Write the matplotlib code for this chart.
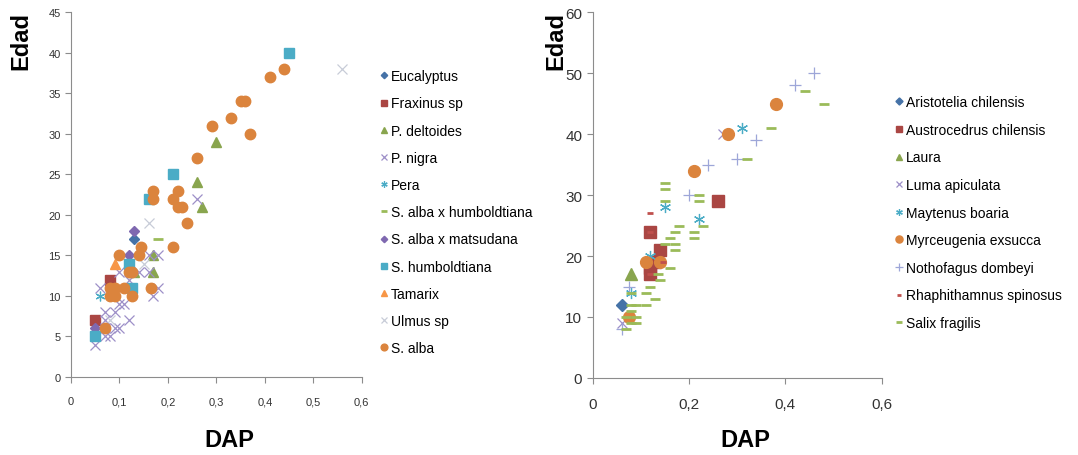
import matplotlib
matplotlib.use('Agg')
import matplotlib.pyplot as plt
from matplotlib.ticker import MultipleLocator, FuncFormatter

plt.rcParams['font.family'] = ['Liberation Sans Narrow', 'Liberation Sans', 'DejaVu Sans']

# ---- left panel data (DAP, Edad) ----
eucalyptus_x = [0.13]
eucalyptus_y = [17]
fraxinus_x = [0.08, 0.05]
fraxinus_y = [12, 7]
pdeltoides_x = [0.30, 0.26, 0.27, 0.17, 0.17, 0.13]
pdeltoides_y = [29, 24, 21, 15, 13, 13]
pnigra_x = [0.26, 0.06, 0.10, 0.14, 0.16, 0.16, 0.18, 0.18, 0.17, 0.10, 0.11, 0.07,
            0.07, 0.12, 0.09, 0.10, 0.08, 0.07, 0.05, 0.07, 0.12, 0.09]
pnigra_y = [22, 11, 13, 13, 13, 15, 15, 11, 10, 9, 9, 8,
            7, 7, 6, 6, 5, 6, 4, 5, 12, 8]
pera_x = [0.12, 0.06]
pera_y = [13, 10]
salba_hum_x = [0.18]
salba_hum_y = [17]
salba_mat_x = [0.13, 0.12, 0.05]
salba_mat_y = [18, 15, 6]
shumb_x = [0.45, 0.21, 0.16, 0.12, 0.125, 0.05]
shumb_y = [40, 25, 22, 14, 11, 5]
tamarix_x = [0.09]
tamarix_y = [14]
ulmus_x = [0.56, 0.16, 0.15, 0.08]
ulmus_y = [38, 19, 14, 7]
salba_x = [0.44, 0.41, 0.35, 0.36, 0.33, 0.37, 0.29, 0.26, 0.17, 0.22, 0.17, 0.21,
           0.22, 0.23, 0.24, 0.21, 0.145, 0.14, 0.10, 0.125, 0.08, 0.09, 0.11, 0.165,
           0.08, 0.09, 0.125, 0.07, 0.12]
salba_y = [38, 37, 34, 34, 32, 30, 31, 27, 23, 23, 22, 22,
           21, 21, 19, 16, 16, 15, 15, 13, 11, 11, 11, 11,
           10, 10, 10, 6, 13]

# ---- right panel data (DAP, Edad) ----
aristotelia_x = [0.06]
aristotelia_y = [12]
austrocedrus_x = [0.26, 0.12, 0.14, 0.13, 0.12, 0.12]
austrocedrus_y = [29, 24, 21, 19, 18, 17]
laura_x = [0.08]
laura_y = [17]
luma_x = [0.27, 0.06]
luma_y = [40, 9]
maytenus_x = [0.31, 0.15, 0.22, 0.12, 0.08]
maytenus_y = [41, 28, 26, 20, 14]
myrceugenia_x = [0.38, 0.28, 0.21, 0.11, 0.14, 0.075]
myrceugenia_y = [45, 40, 34, 19, 19, 10]
nothofagus_x = [0.46, 0.42, 0.34, 0.30, 0.24, 0.20, 0.075, 0.06]
nothofagus_y = [50, 48, 39, 36, 35, 30, 15, 8]
rhaphi_x = [0.12, 0.12, 0.145, 0.12]
rhaphi_y = [27, 24, 19, 17]
salix_x = [0.44, 0.48, 0.37, 0.32, 0.15, 0.15, 0.22, 0.22, 0.15, 0.23, 0.18, 0.17,
           0.21, 0.16, 0.21, 0.15, 0.17, 0.17, 0.16, 0.135, 0.14, 0.12, 0.11, 0.08,
           0.13, 0.11, 0.08, 0.09, 0.07, 0.09, 0.08, 0.09, 0.07, 0.08]
salix_y = [47, 45, 41, 36, 32, 31, 30, 29, 29, 25, 25, 24,
           24, 23, 23, 22, 22, 21, 18, 17, 16, 15, 14, 14,
           13, 12, 12, 12, 10, 10, 9, 9, 8, 11]

BLUE = '#4572A7'
RED = '#AA4643'
GREEN = '#89A54E'
PURPLE = '#9D8FC8'
AQUA = '#4BACC6'
ORANGE = '#DB843D'
STAR = (6, 2, 0)

left_series = [
    ('Eucalyptus', eucalyptus_x, eucalyptus_y, dict(marker='D', color=BLUE, ms=5)),
    ('Fraxinus sp', fraxinus_x, fraxinus_y, dict(marker='s', color=RED, ms=7)),
    ('P. deltoides', pdeltoides_x, pdeltoides_y, dict(marker='^', color=GREEN, ms=7)),
    ('P. nigra', pnigra_x, pnigra_y, dict(marker='x', color=PURPLE, ms=7, mew=0.9)),
    ('Pera', pera_x, pera_y, dict(marker=STAR, color=AQUA, ms=7, mew=0.9)),
    ('S. alba x humboldtiana', salba_hum_x, salba_hum_y, dict(marker='_', color='#9BBB59', ms=7, mew=2)),
    ('S. alba x matsudana', salba_mat_x, salba_mat_y, dict(marker='D', color='#7F68B0', ms=5)),
    ('S. humboldtiana', shumb_x, shumb_y, dict(marker='s', color=AQUA, ms=7)),
    ('Tamarix', tamarix_x, tamarix_y, dict(marker='^', color='#F79646', ms=7)),
    ('Ulmus sp', ulmus_x, ulmus_y, dict(marker='x', color='#C8CCD8', ms=7, mew=0.9)),
    ('S. alba', salba_x, salba_y, dict(marker='o', color=ORANGE, ms=7.5)),
]

right_series = [
    ('Aristotelia chilensis', aristotelia_x, aristotelia_y, dict(marker='D', color=BLUE, ms=6)),
    ('Austrocedrus chilensis', austrocedrus_x, austrocedrus_y, dict(marker='s', color=RED, ms=8)),
    ('Laura', laura_x, laura_y, dict(marker='^', color=GREEN, ms=8)),
    ('Luma apiculata', luma_x, luma_y, dict(marker='x', color=PURPLE, ms=7, mew=0.9)),
    ('Maytenus boaria', maytenus_x, maytenus_y, dict(marker=STAR, color=AQUA, ms=8, mew=0.9)),
    ('Myrceugenia exsucca', myrceugenia_x, myrceugenia_y, dict(marker='o', color=ORANGE, ms=8.5)),
    ('Nothofagus dombeyi', nothofagus_x, nothofagus_y, dict(marker='+', color='#9DA6D8', ms=9, mew=0.9)),
    ('Rhaphithamnus spinosus', rhaphi_x, rhaphi_y, dict(marker='_', color='#C0504D', ms=4, mew=2)),
    ('Salix fragilis', salix_x, salix_y, dict(marker='_', color='#9BBB59', ms=7, mew=2)),
]

fig = plt.figure(figsize=(10.78, 4.56), dpi=100)
ax1 = fig.add_axes([0.0659, 0.171, 0.2697, 0.80])
ax2 = fig.add_axes([0.5498, 0.169, 0.2681, 0.802])

comma = FuncFormatter(lambda v, p: ('%g' % round(v, 2)).replace('.', ','))

def style(ax, xstep, ystep, ymax, fs):
    ax.set_xlim(0, 0.6)
    ax.set_ylim(0, ymax)
    ax.xaxis.set_major_locator(MultipleLocator(xstep))
    ax.yaxis.set_major_locator(MultipleLocator(ystep))
    ax.xaxis.set_major_formatter(comma)
    for s in ['top', 'right']:
        ax.spines[s].set_visible(False)
    for s in ['left', 'bottom']:
        ax.spines[s].set_color('#8C8C8C')
        ax.spines[s].set_linewidth(0.8)
    ax.tick_params(colors='#8C8C8C', labelcolor='#333333', labelsize=fs, length=4, width=0.8)
    ax.tick_params(axis='x', pad=10)

for name, x, y, kw in left_series:
    ax1.plot(x, y, linestyle='none', label=name, **kw)
for name, x, y, kw in right_series:
    ax2.plot(x, y, linestyle='none', label=name, **kw)

style(ax1, 0.1, 5, 45, 8)
style(ax2, 0.2, 10, 60, 11)

ax1.legend(loc='upper left', bbox_to_anchor=(0.353, 0.846), bbox_transform=fig.transFigure,
           frameon=False, fontsize=10, handlelength=0.5, handletextpad=0.25,
           labelspacing=0.95, markerscale=0.65, borderpad=0, borderaxespad=0)
ax2.legend(loc='upper left', bbox_to_anchor=(0.831, 0.789), bbox_transform=fig.transFigure,
           frameon=False, fontsize=10, handlelength=0.5, handletextpad=0.25,
           labelspacing=0.98, markerscale=0.6, borderpad=0, borderaxespad=0)

fig.text(0.019, 0.91, 'Edad', rotation=90, ha='center', va='center', fontsize=17, fontweight='bold')
fig.text(0.2125, 0.035, 'DAP', ha='center', va='center', fontsize=17, fontweight='bold')
fig.text(0.516, 0.91, 'Edad', rotation=90, ha='center', va='center', fontsize=17, fontweight='bold')
fig.text(0.691, 0.035, 'DAP', ha='center', va='center', fontsize=17, fontweight='bold')

fig.savefig('out.png', dpi=100)
